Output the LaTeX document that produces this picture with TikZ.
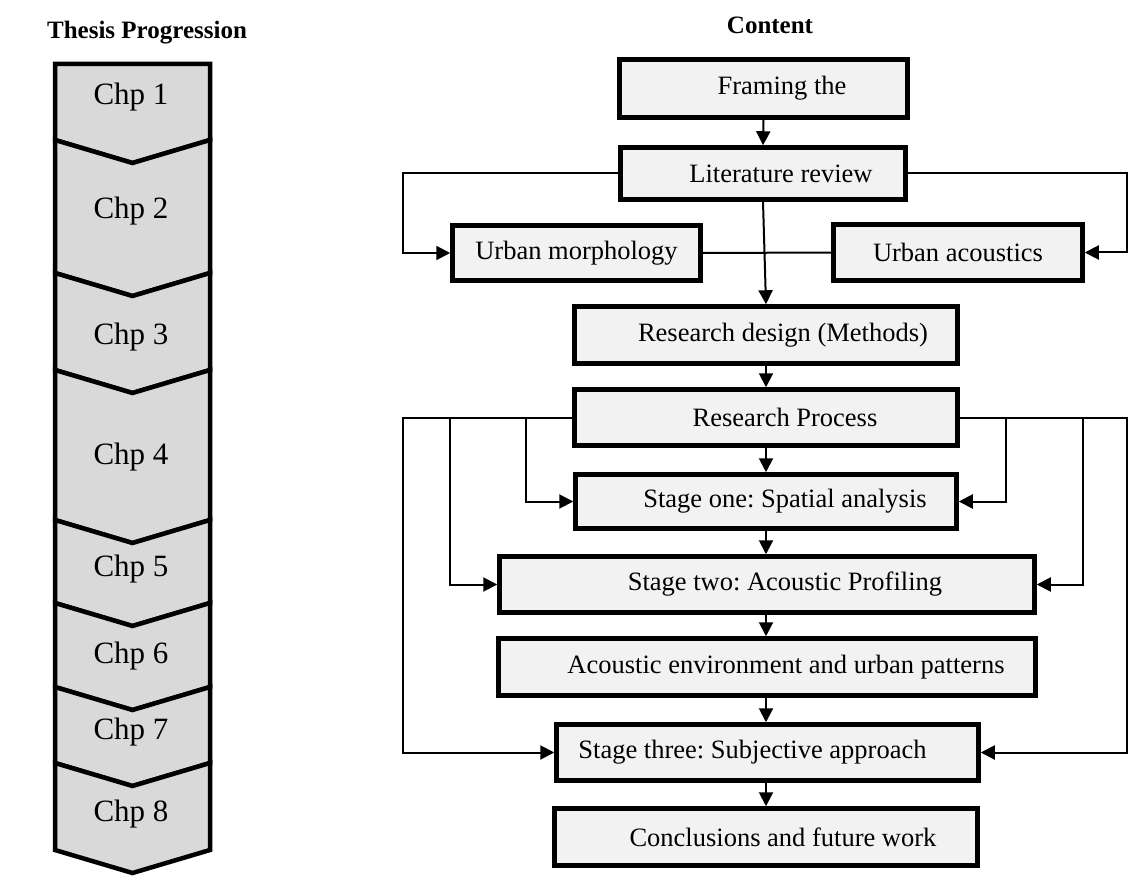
\documentclass[tikz,border=0pt]{standalone}
\usepackage{fontspec}
\setmainfont{Liberation Serif}
\usetikzlibrary{arrows.meta}
\definecolor{boxfill}{HTML}{F2F2F2}
\definecolor{chevfill}{HTML}{D9D9D9}
\frenchspacing
\tikzset{
  box/.style={draw=black, line width=4.5pt, fill=boxfill, inner sep=0pt,
    font=\fontsize{26.5}{30}\selectfont},
  link/.style={line width=2pt, -{Triangle[length=14pt,width=14pt]}},
  plainlink/.style={line width=2pt},
  chev/.style={draw=black, line width=4.5pt, fill=chevfill, line join=miter},
  chplabel/.style={font=\fontsize{31}{34}\selectfont},
  heading/.style={font=\bfseries\fontsize{25}{28}\selectfont},
}
\begin{document}
\begin{tikzpicture}[x=1pt,y=-1pt]
\useasboundingbox (0,0) rectangle (1129,877);

% headings
\node[heading] (tp) at (147,33) {Thesis Progression};
\node[heading] (ct) at (770,25) {Content};

% chapter chevrons
\def\L{55}\def\R{210}\def\C{132.5}\def\D{23}
\draw[chev] (\L,64) -- (\R,64) -- (\R,140) -- (\C,140+\D) -- (\L,140) -- cycle;
\foreach \t/\b in {140/273, 273/370, 370/520, 520/603, 603/687, 687/763, 763/850}{
  \draw[chev] (\L,\t) -- (\C,\t+\D) -- (\R,\t) -- (\R,\b) -- (\C,\b+\D) -- (\L,\b) -- cycle;
}
\node[chplabel] (c1) at (131,97) {Chp 1};
\node[chplabel] (c2) at (131,211) {Chp 2};
\node[chplabel] (c3) at (131,337) {Chp 3};
\node[chplabel] (c4) at (131,457) {Chp 4};
\node[chplabel] (c5) at (131,569) {Chp 5};
\node[chplabel] (c6) at (131,656) {Chp 6};
\node[chplabel] (c7) at (131,732) {Chp 7};
\node[chplabel] (c8) at (131,814) {Chp 8};

% content boxes
\node[box, minimum width=288pt, minimum height=58pt] (fr) at (763.5,88.5) {\hspace*{37pt}Framing the};
\node[box, minimum width=285pt, minimum height=52pt] (lit) at (763,173.5) {\hspace*{36pt}Literature review};
\node[box, minimum width=248pt, minimum height=55pt] (um) at (576.5,253) {Urban morphology};
\node[box, minimum width=249pt, minimum height=56pt] (ua) at (958,252.5) {Urban acoustics};
\node[box, minimum width=383pt, minimum height=57pt] (rd) at (766,335) {\hspace*{34pt}Research design (Methods)};
\node[box, minimum width=383pt, minimum height=56pt] (rp) at (766,417.5) {\hspace*{38pt}Research Process};
\node[box, minimum width=381pt, minimum height=54pt] (s1) at (766,501.5) {\hspace*{38pt}Stage one: Spatial analysis};
\node[box, minimum width=535pt, minimum height=56pt] (s2) at (767,584.5) {\hspace*{36pt}Stage two: Acoustic Profiling};
\node[box, minimum width=537pt, minimum height=57pt] (ae) at (767,667) {\hspace*{38pt}Acoustic environment and urban patterns};
\node[box, minimum width=422pt, minimum height=56pt] (s3) at (767.5,752.5) {Stage three: Subjective approach\hspace*{30pt}};
\node[box, minimum width=423pt, minimum height=57pt] (cf) at (766,837) {\hspace*{34pt}Conclusions and future work};

% routing points
\coordinate (litL) at (403,173.5);
\coordinate (litR) at (1127,173.5);
\coordinate (rpL) at (403,417.5);
\coordinate (rpR) at (1127,417.5);
\coordinate (b2L) at (450,417.5);
\coordinate (b1L) at (526,417.5);
\coordinate (b1R) at (1006,417.5);
\coordinate (b2R) at (1083,417.5);

% main flow
\draw[link] (fr.south) -- (lit.north);
\draw[link] (lit.south) -- (rd.north);
\draw[link] (rd.south) -- (rd.south |- rp.north);
\draw[link] (rp.south) -- (rp.south |- s1.north);
\draw[link] (s1.south) -- (s1.south |- s2.north);
\draw[link] (s1.south |- s2.south) -- (s1.south |- ae.north);
\draw[link] (s1.south |- ae.south) -- (s1.south |- s3.north);
\draw[link] (s1.south |- s3.south) -- (s1.south |- cf.north);

% literature branches
\draw[link] (lit.west) -- (litL) |- (um.west);
\draw[link] (lit.east) -- (litR) |- (ua.east);
\draw[plainlink] (um.east) -- (ua.west);

% research process branches
\draw[link] (rp.west) -- (rpL) |- (s3.west);
\draw[link] (rp.east) -- (rpR) |- (s3.east);
\draw[link] (b2L) |- (s2.west);
\draw[link] (b1L) |- (s1.west);
\draw[link] (b1R) |- (s1.east);
\draw[link] (b2R) |- (s2.east);
\end{tikzpicture}
\end{document}
